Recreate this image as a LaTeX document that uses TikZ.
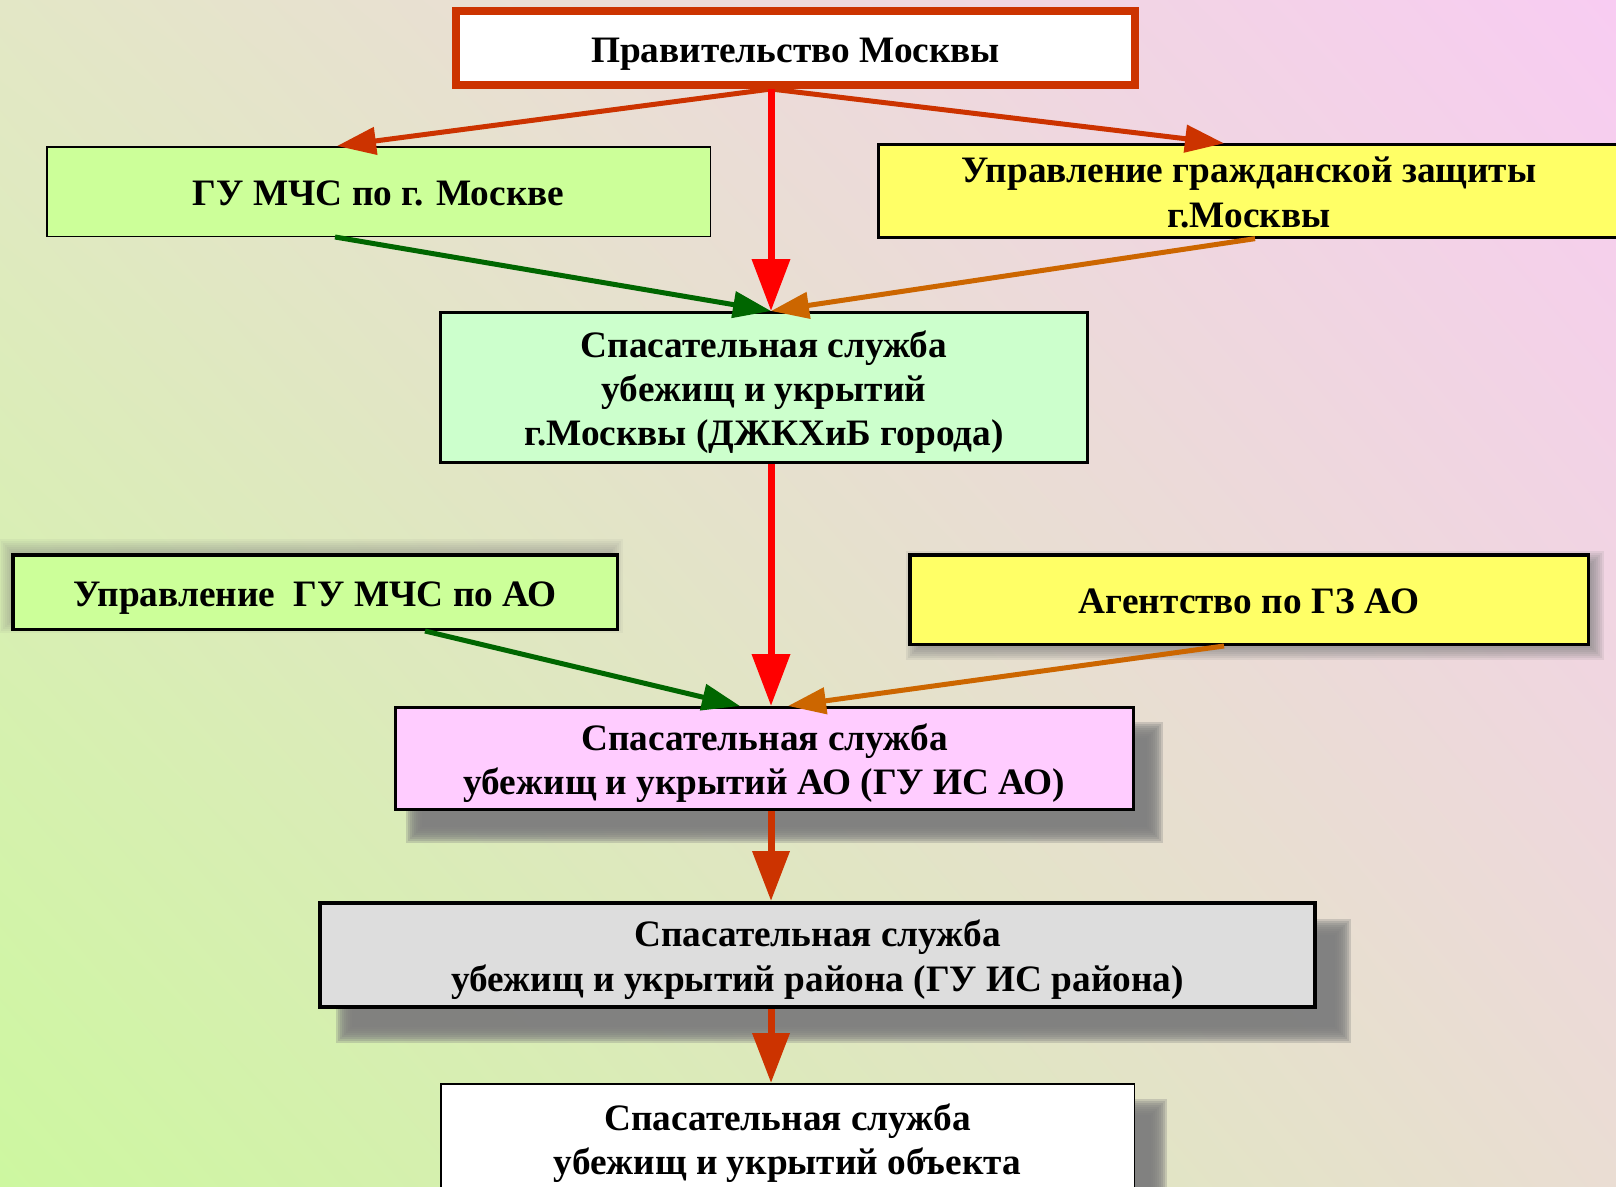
\documentclass[tikz,border=0pt]{standalone}
\usepackage{fontspec}
\setmainfont{Liberation Serif}
\usetikzlibrary{arrows.meta,backgrounds,calc,shadings}
\definecolor{cRO}{HTML}{CC3300}
\definecolor{cRed}{HTML}{FF0000}
\definecolor{cGrn}{HTML}{006600}
\definecolor{cOrg}{HTML}{CC6600}
\definecolor{fLime}{HTML}{CCFF99}
\definecolor{fYel}{HTML}{FFFF66}
\definecolor{fMint}{HTML}{CCFFCC}
\definecolor{fPink}{HTML}{FFCCFF}
\definecolor{fGray}{HTML}{DDDDDD}
\definecolor{shGray}{HTML}{7F7F7F}
\definecolor{bgUL}{HTML}{E3E7C6}
\definecolor{bgUR}{HTML}{F8CCF2}
\definecolor{bgLL}{HTML}{CDF7A0}
\definecolor{bgLR}{HTML}{EADDD3}
\newcommand\hiS{\rule{0pt}{38pt}}
\newcommand\loS{\rule[-10pt]{0pt}{0pt}}
\newcommand\softshadowof[4]{%
  \foreach \e in {-8,-6,...,8}{%
    \fill[shGray,fill opacity=#4] ([shift={({#2-\e},{#3-\e})}]#1.north west) rectangle ([shift={({#2+\e},{#3+\e})}]#1.south east);
  }}
\tikzset{
  box/.style={draw=black, align=center, inner sep=0pt,
    font=\fontsize{37.3}{44.3}\selectfont\bfseries},
  arrRO/.style={draw=cRO, line width=5pt, -{Triangle[length=39pt,width=27pt]}},
  arrRed/.style={draw=cRed, line width=7pt, -{Triangle[length=52pt,width=37pt]}},
  arrGrn/.style={draw=cGrn, line width=5pt, -{Triangle[length=38pt,width=26pt]}},
  arrOrg/.style={draw=cOrg, line width=5pt, -{Triangle[length=38pt,width=26pt]}},
  arrDown/.style={draw=cRO, line width=7pt, -{Triangle[length=50pt,width=36pt]}},
}
\begin{document}
\begin{tikzpicture}[x=1pt,y=-1pt]
\useasboundingbox (0,0) rectangle (1616,1186);
\begin{pgfonlayer}{background}
\shade[upper left=bgUL, upper right=bgUR, lower left=bgLL, lower right=bgLR] (0,0) rectangle (1616,1186);
\end{pgfonlayer}
\clip (0,0) rectangle (1616,1186);

\node[box, line width=8pt, draw=cRO, fill=white, minimum width=679pt, minimum height=74pt] (b1) at (795.5,48) {\hiS Правительство Москвы\loS};
\node[box, line width=1.5pt, fill=fLime, minimum width=663.5pt, minimum height=89.5pt] (b2) at (378.5,191.5) {\hiS ГУ МЧС по г. Москве\loS};
\node[box, line width=3pt, fill=fYel, minimum width=741pt, minimum height=87pt] (b3) at (1249,191) {\hiS Управление гражданской защиты\\г.Москвы\loS};
\node[box, line width=3pt, fill=fMint, minimum width=647pt, minimum height=150pt] (b4) at (764,387.5) {\hiS Спасательная служба\\убежищ и укрытий\\г.Москвы (ДЖКХиБ города)\loS};
\node[box, line width=3.5pt, fill=fLime, minimum width=604.5pt, minimum height=74.5pt] (b5) at (315,592) {\hiS Управление~ ГУ МЧС по АО\loS};
\node[box, line width=3.5pt, fill=fYel, minimum width=678.5pt, minimum height=89.5pt] (b6) at (1249,599.5) {\hiS Агентство по ГЗ АО\loS};
\node[box, line width=3pt, fill=fPink, minimum width=738pt, minimum height=102pt] (b7) at (764.5,758.5) {\hiS Спасательная служба\\убежищ и укрытий АО (ГУ ИС АО)\loS};
\node[box, line width=4pt, fill=fGray, minimum width=995pt, minimum height=104pt] (b8) at (817.5,955) {\hiS Спасательная служба\\убежищ и укрытий района (ГУ ИС района)\loS};
\node[box, line width=1.5pt, fill=white, minimum width=693.5pt, minimum height=109.5pt] (b9) at (787.5,1138.5) {\hiS Спасательная служба\\убежищ и укрытий объекта\loS};

\begin{pgfonlayer}{background}
\softshadowof{b5}{-4}{-6}{0.08}
\softshadowof{b6}{6}{6}{0.14}
\softshadowof{b7}{20}{24}{0.3}
\softshadowof{b8}{26}{26}{0.3}
\softshadowof{b9}{24}{24}{0.3}
\end{pgfonlayer}

\draw[arrRO] ([xshift=-24.5pt]b1.south) -- ([xshift=-41.5pt]b2.north);
\draw[arrRO] ([xshift=-24.5pt]b1.south) -- ([xshift=-25pt]b3.north);
\draw[arrRed] ([xshift=-24.5pt]b1.south) -- ([xshift=7pt]b4.north);
\draw[arrGrn] ([xshift=-43.5pt]b2.south) -- ([xshift=7pt]b4.north);
\draw[arrOrg] ([xshift=6pt]b3.south) -- ([xshift=7pt]b4.north);
\draw[arrRed] ([xshift=7pt]b4.south) -- ([xshift=6.5pt]b7.north);
\draw[arrGrn] ([xshift=110pt]b5.south) -- ([xshift=-24.5pt]b7.north);
\draw[arrOrg] ([xshift=-25pt]b6.south) -- ([xshift=23.5pt]b7.north);
\draw[arrDown] ([xshift=6.5pt]b7.south) -- ([xshift=-46.5pt]b8.north);
\draw[arrDown] ([xshift=-46.5pt]b8.south) -- ([xshift=-16.5pt]b9.north);
\end{tikzpicture}
\end{document}
